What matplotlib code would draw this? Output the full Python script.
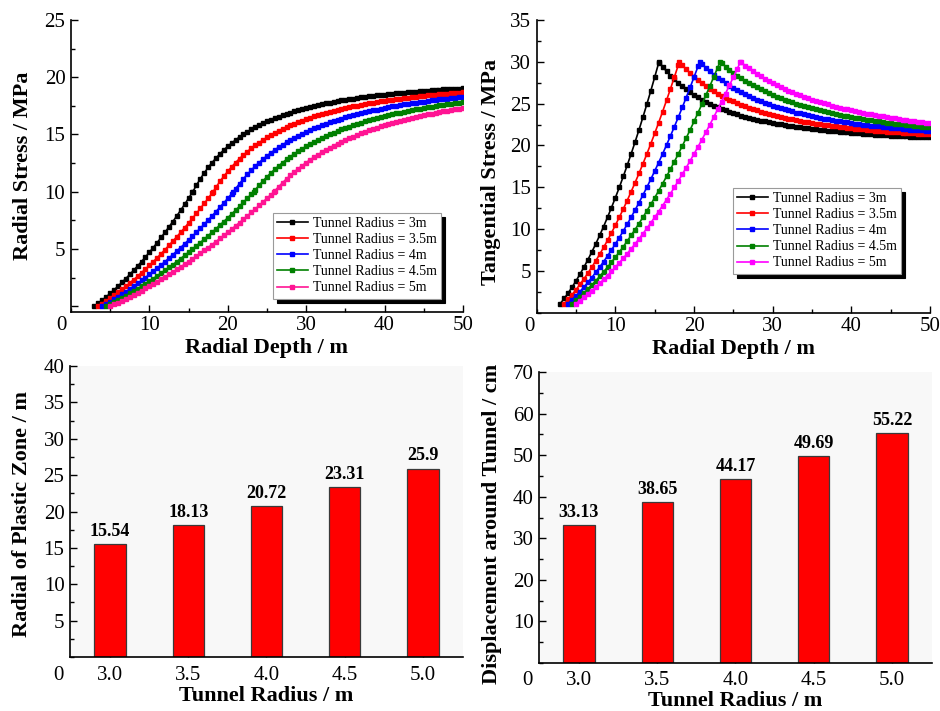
import numpy as np
import matplotlib
matplotlib.use('Agg')
import matplotlib.pyplot as plt
from matplotlib.ticker import MultipleLocator, FixedLocator

plt.rcParams['font.family'] = ['Liberation Serif', 'DejaVu Serif']

# ---------------- data ----------------
tunnel_radius = [3.0, 3.5, 4.0, 4.5, 5.0]
plastic_radius = [15.54, 18.13, 20.72, 23.31, 25.9]
displacement = [33.13, 38.65, 44.17, 49.69, 55.22]
legend_labels = ['Tunnel Radius = 3m', 'Tunnel Radius = 3.5m', 'Tunnel Radius = 4m',
                 'Tunnel Radius = 4.5m', 'Tunnel Radius = 5m']

radial_3m = [0.00, 0.26, 0.54, 0.82, 1.12, 1.43, 1.75, 2.08, 2.42, 2.78, 3.14, 3.52, 3.90, 4.30,
             4.71, 5.13, 5.56, 6.01, 6.46, 6.93, 7.40, 7.89, 8.39, 8.90, 9.43, 9.96, 10.00,
             10.57, 11.13, 11.64, 12.12, 12.55, 12.94, 13.31, 13.65, 13.96, 14.25,
             14.52, 14.78, 15.01, 15.23, 15.44, 15.63, 15.81, 15.98, 16.14, 16.29,
             16.43, 16.56, 16.69, 16.81, 16.92, 17.03, 17.13, 17.23, 17.32, 17.40,
             17.49, 17.57, 17.64, 17.71, 17.78, 17.85, 17.91, 17.97, 18.03, 18.08,
             18.14, 18.19, 18.24, 18.28, 18.33, 18.37, 18.41, 18.45, 18.49, 18.53,
             18.56, 18.60, 18.63, 18.66, 18.69, 18.72, 18.75, 18.78, 18.81, 18.83,
             18.86, 18.88, 18.91, 18.93, 18.95, 18.97, 18.99, 19.01, 19.03]
radial_3_5m = [0.00, 0.23, 0.46, 0.70, 0.95, 1.21, 1.48, 1.75, 2.03, 2.32, 2.62, 2.93, 3.25, 3.57,
               3.90, 4.24, 4.59, 4.95, 5.32, 5.69, 6.07, 6.46, 6.86, 7.27, 7.68, 8.11, 8.54, 8.98,
               9.43, 9.88, 10.00,
               10.40, 10.90, 11.36, 11.78, 12.18, 12.55, 12.89, 13.21, 13.51, 13.79,
               14.05, 14.29, 14.52, 14.74, 14.95, 15.14, 15.32, 15.49, 15.65, 15.81,
               15.95, 16.09, 16.22, 16.35, 16.47, 16.58, 16.69, 16.79, 16.89, 16.98,
               17.07, 17.16, 17.24, 17.32, 17.39, 17.46, 17.53, 17.60, 17.66, 17.72,
               17.78, 17.84, 17.89, 17.95, 18.00, 18.05, 18.09, 18.14, 18.18, 18.22,
               18.26, 18.30, 18.34, 18.38, 18.41, 18.45, 18.48, 18.51, 18.54, 18.57,
               18.60, 18.63, 18.66, 18.69]
radial_4m = [0.00, 0.20, 0.40, 0.61, 0.82, 1.05, 1.27, 1.51, 1.75, 2.00, 2.25, 2.51, 2.78, 3.05,
             3.33, 3.61, 3.90, 4.20, 4.51, 4.82, 5.13, 5.46, 5.78, 6.12, 6.46, 6.81, 7.16, 7.53,
             7.89, 8.27, 8.65, 9.03, 9.43, 9.82, 10.00,
             10.27, 10.71, 11.13, 11.52, 11.88, 12.23, 12.55, 12.85, 13.13, 13.40,
             13.65, 13.89, 14.11, 14.32, 14.52, 14.72, 14.90, 15.07, 15.23, 15.39,
             15.53, 15.67, 15.81, 15.94, 16.06, 16.17, 16.29, 16.39, 16.50, 16.59,
             16.69, 16.78, 16.86, 16.95, 17.03, 17.10, 17.18, 17.25, 17.32, 17.38,
             17.45, 17.51, 17.57, 17.62, 17.68, 17.73, 17.78, 17.83, 17.88, 17.93,
             17.97, 18.01, 18.06, 18.10, 18.14, 18.18, 18.21, 18.25, 18.28]
radial_4_5m = [0.00, 0.17, 0.35, 0.54, 0.73, 0.92, 1.12, 1.33, 1.54, 1.75,
               1.97, 2.19, 2.42, 2.66, 2.90, 3.14, 3.39, 3.64, 3.90, 4.17,
               4.44, 4.71, 4.99, 5.28, 5.56, 5.86, 6.16, 6.46, 6.77, 7.09,
               7.40, 7.73, 8.06, 8.39, 8.73, 9.08, 9.43, 9.78, 10.00,
               10.16, 10.57, 10.95, 11.31, 11.64, 11.96, 12.26, 12.55, 12.82, 13.07,
               13.31, 13.54, 13.76, 13.96, 14.16, 14.35, 14.52, 14.69, 14.86, 15.01,
               15.16, 15.30, 15.44, 15.57, 15.69, 15.81, 15.92, 16.03, 16.14, 16.24,
               16.33, 16.43, 16.52, 16.60, 16.69, 16.77, 16.85, 16.92, 16.99, 17.06,
               17.13, 17.19, 17.26, 17.32, 17.38, 17.43, 17.49, 17.54, 17.59, 17.64,
               17.69, 17.74, 17.78, 17.83]
radial_5m = [0.00, 0.16, 0.32, 0.48, 0.65, 0.82, 1.00, 1.18, 1.37, 1.56,
             1.75, 1.95, 2.15, 2.35, 2.56, 2.78, 2.99, 3.22, 3.44, 3.67,
             3.90, 4.14, 4.38, 4.63, 4.88, 5.13, 5.39, 5.65, 5.92, 6.19,
             6.46, 6.74, 7.02, 7.31, 7.60, 7.89, 8.19, 8.49, 8.80, 9.11,
             9.43, 9.74, 10.00,
             10.08, 10.45, 10.80, 11.13, 11.44, 11.74, 12.02, 12.29, 12.55, 12.79,
             13.02, 13.24, 13.45, 13.65, 13.84, 14.02, 14.20, 14.36, 14.52, 14.68,
             14.82, 14.97, 15.10, 15.23, 15.36, 15.47, 15.59, 15.70, 15.81, 15.91,
             16.01, 16.11, 16.20, 16.29, 16.37, 16.46, 16.54, 16.61, 16.69, 16.76,
             16.83, 16.90, 16.96, 17.03, 17.09, 17.15, 17.21, 17.26, 17.32]

tangential_3m = [1.10, 1.71, 2.37, 3.08, 3.82, 4.62, 5.45, 6.34, 7.26, 8.23, 9.25, 10.31, 11.42,
                 12.57, 13.76, 15.00, 16.29, 17.62, 18.99, 20.41, 21.87, 23.38, 24.94, 26.53,
                 28.18, 29.86, 30.00,
                 29.43, 28.87, 28.36, 27.89, 27.45, 27.06, 26.69, 26.35, 26.04, 25.75,
                 25.48, 25.22, 24.99, 24.77, 24.57, 24.37, 24.19, 24.02, 23.86, 23.71,
                 23.57, 23.44, 23.31, 23.19, 23.08, 22.97, 22.87, 22.77, 22.68, 22.60,
                 22.51, 22.43, 22.36, 22.29, 22.22, 22.15, 22.09, 22.03, 21.97, 21.92,
                 21.86, 21.81, 21.76, 21.72, 21.67, 21.63, 21.59, 21.55, 21.51, 21.47,
                 21.44, 21.40, 21.37, 21.34, 21.31, 21.28, 21.25, 21.22, 21.19, 21.17,
                 21.14, 21.12, 21.09, 21.07, 21.05, 21.03, 21.01, 20.99, 20.97]
tangential_3_5m = [1.10, 1.62, 2.18, 2.77, 3.39, 4.05, 4.73, 5.45, 6.21, 6.99, 7.81, 8.66, 9.55,
                   10.47, 11.42, 12.40, 13.42, 14.47, 15.55, 16.66, 17.81, 18.99, 20.20, 21.45,
                   22.73, 24.04, 25.39, 26.77, 28.18, 29.62, 30.00,
                   29.60, 29.11, 28.64, 28.22, 27.82, 27.45, 27.11, 26.79, 26.49, 26.21,
                   25.95, 25.71, 25.48, 25.26, 25.06, 24.86, 24.68, 24.51, 24.35, 24.19,
                   24.05, 23.91, 23.78, 23.65, 23.53, 23.42, 23.31, 23.21, 23.11, 23.02,
                   22.93, 22.84, 22.76, 22.68, 22.61, 22.54, 22.47, 22.40, 22.34, 22.28,
                   22.22, 22.16, 22.11, 22.05, 22.00, 21.96, 21.91, 21.86, 21.82, 21.78,
                   21.74, 21.70, 21.66, 21.62, 21.59, 21.55, 21.52, 21.49, 21.46, 21.43,
                   21.40, 21.37, 21.34, 21.32]
tangential_4m = [1.10, 1.56, 2.04, 2.54, 3.08, 3.63, 4.21, 4.82, 5.45, 6.11, 6.79, 7.50, 8.23,
                 8.99, 9.77, 10.58, 11.42, 12.28, 13.16, 14.07, 15.00, 15.96, 16.95, 17.96,
                 18.99, 20.05, 21.14, 22.25, 23.38, 24.54, 25.73, 26.94, 28.18, 29.44, 30.00,
                 29.74, 29.29, 28.87, 28.48, 28.12, 27.77, 27.45, 27.15, 26.87, 26.60,
                 26.35, 26.11, 25.89, 25.68, 25.48, 25.29, 25.10, 24.93, 24.77, 24.62,
                 24.47, 24.33, 24.19, 24.06, 23.94, 23.83, 23.71, 23.61, 23.50, 23.41,
                 23.31, 23.22, 23.14, 23.05, 22.97, 22.90, 22.82, 22.75, 22.68, 22.62,
                 22.55, 22.49, 22.43, 22.38, 22.32, 22.27, 22.22, 22.17, 22.12, 22.07,
                 22.03, 21.99, 21.94, 21.90, 21.86, 21.83, 21.79, 21.75, 21.72]
tangential_4_5m = [1.10, 1.50, 1.93, 2.37, 2.84, 3.32, 3.82, 4.35, 4.89, 5.45,
                   6.04, 6.64, 7.26, 7.90, 8.57, 9.25, 9.95, 10.67, 11.42, 12.18,
                   12.96, 13.76, 14.58, 15.43, 16.29, 17.17, 18.07, 18.99, 19.93, 20.89,
                   21.87, 22.87, 23.90, 24.94, 26.00, 27.08, 28.18, 29.30, 30.00,
                   29.84, 29.43, 29.05, 28.69, 28.36, 28.04, 27.74, 27.45, 27.18, 26.93,
                   26.69, 26.46, 26.24, 26.04, 25.84, 25.65, 25.48, 25.31, 25.14, 24.99,
                   24.84, 24.70, 24.56, 24.43, 24.31, 24.19, 24.08, 23.97, 23.86, 23.76,
                   23.67, 23.57, 23.48, 23.40, 23.31, 23.23, 23.15, 23.08, 23.01, 22.94,
                   22.87, 22.81, 22.74, 22.68, 22.62, 22.57, 22.51, 22.46, 22.41, 22.36,
                   22.31, 22.26, 22.22, 22.17]
tangential_5m = [1.10, 1.46, 1.84, 2.24, 2.65, 3.08, 3.52, 3.98, 4.45, 4.95,
                 5.45, 5.98, 6.52, 7.07, 7.65, 8.23, 8.84, 9.46, 10.09, 10.75,
                 11.42, 12.10, 12.80, 13.52, 14.25, 15.00, 15.77, 16.55, 17.35, 18.16,
                 18.99, 19.84, 20.70, 21.58, 22.47, 23.38, 24.31, 25.25, 26.21, 27.19,
                 28.18, 29.18, 30.00,
                 29.92, 29.55, 29.20, 28.87, 28.56, 28.26, 27.98, 27.71, 27.45, 27.21,
                 26.98, 26.76, 26.55, 26.35, 26.16, 25.98, 25.80, 25.64, 25.48, 25.32,
                 25.18, 25.04, 24.90, 24.77, 24.65, 24.53, 24.41, 24.30, 24.19, 24.09,
                 23.99, 23.90, 23.80, 23.71, 23.63, 23.55, 23.47, 23.39, 23.31, 23.24,
                 23.17, 23.10, 23.04, 22.97, 22.91, 22.85, 22.79, 22.74, 22.68]

radial_series = [radial_3m, radial_3_5m, radial_4m, radial_4_5m, radial_5m]
tangential_series = [tangential_3m, tangential_3_5m, tangential_4m, tangential_4_5m, tangential_5m]

radial_colors = ['#000000', '#ff0000', '#0000ff', '#008000', '#ff1493']
tangential_colors = ['#000000', '#ff0000', '#0000ff', '#008000', '#ff00ff']


def depth_grid(r0, rp):
    inner = np.arange(r0, rp - 1e-9, 0.5)
    outer = np.arange(np.floor(rp * 2) / 2 + 0.5, 50.0 + 1e-9, 0.5)
    return np.concatenate([inner, [rp], outer])


# ---------------- figure ----------------
fig = plt.figure(figsize=(9.4, 7.11), dpi=100)

ax_tl = fig.add_axes([0.0755, 0.5612, 0.417, 0.4107])
ax_tr = fig.add_axes([0.571, 0.5601, 0.4184, 0.4118])
ax_bl = fig.add_axes([0.0745, 0.0759, 0.418, 0.4093])
ax_br = fig.add_axes([0.5734, 0.0675, 0.418, 0.4093])

TICK = 15
LABEL = 16


def style_axes(ax):
    for s in ['top', 'right']:
        ax.spines[s].set_visible(False)
    for s in ['left', 'bottom']:
        ax.spines[s].set_linewidth(1.2)
    ax.tick_params(which='both', direction='in', width=1.0, labelsize=TICK)
    ax.tick_params(which='major', length=5)
    ax.tick_params(which='minor', length=3)
    ax.tick_params(axis='y', pad=4)


def origin_label(ax, dx, dy):
    ax.annotate('0', xy=(0, 0), xycoords='axes fraction', xytext=(dx, dy),
                textcoords='offset points', ha='center', va='top', fontsize=TICK)


def curve_panel(ax, series, colors, ylim, yticks, ylabel, leg_anchor, ylab_pos):
    for r0, rp, vals, c, lab in zip(tunnel_radius, plastic_radius, series, colors, legend_labels):
        d = depth_grid(r0, rp)
        n = min(len(d), len(vals))
        ax.plot(d[:n], vals[:n], '-s', color=c, lw=1.2, ms=3.2, mec=c, mfc=c, label=lab)
    ax.set_xlim(0, 50)
    ax.set_ylim(*ylim)
    ax.xaxis.set_major_locator(FixedLocator([10, 20, 30, 40, 50]))
    ax.xaxis.set_minor_locator(MultipleLocator(5))
    ax.yaxis.set_major_locator(FixedLocator(yticks))
    ax.yaxis.set_minor_locator(MultipleLocator(2.5))
    ax.set_yticklabels(['' if t == 0 else str(t) for t in yticks])
    style_axes(ax)
    ax.tick_params(axis='x', pad=3)
    ax.set_xlabel('Radial Depth / m', fontsize=LABEL, fontweight='bold')
    ax.xaxis.set_label_coords(0.5, -0.09)
    ax.set_ylabel(ylabel, fontsize=LABEL, fontweight='bold')
    ax.yaxis.set_label_coords(ylab_pos[0], ylab_pos[1])
    leg = ax.legend(loc='upper left', bbox_to_anchor=leg_anchor, borderaxespad=0,
                    fontsize=10, numpoints=1, handlelength=2.2, handletextpad=0.4,
                    borderpad=0.3, labelspacing=0.22, fancybox=False, framealpha=1,
                    edgecolor='#9a9a9a',
                    shadow={'color': 'black', 'alpha': 1.0, 'ox': 3, 'oy': -3})
    leg.get_frame().set_linewidth(0.8)


curve_panel(ax_tl, radial_series, radial_colors, (-0.5, 25), [0, 5, 10, 15, 20, 25],
            'Radial Stress / MPa', (0.515, 0.339), (-0.098, 0.5))
origin_label(ax_tl, -7, -3)

curve_panel(ax_tr, tangential_series, tangential_colors, (0, 35), [5, 10, 15, 20, 25, 30, 35],
            'Tangential Stress / MPa', (0.499, 0.426), (-0.092, 0.48))
origin_label(ax_tr, -5.5, -3)


def bar_panel(ax, values, ylim, ymajor, yminor, ylabel, ylab_pos, xlab_y, pad):
    ax.set_facecolor('#f8f8f8')
    bars = ax.bar(tunnel_radius, values, width=0.2, color='#ff0000',
                  edgecolor='#3a3a3a', linewidth=0.9, zorder=2)
    for b, v in zip(bars, values):
        ax.annotate(str(v), xy=(b.get_x() + b.get_width() / 2, b.get_height()),
                    xytext=(0, 3), textcoords='offset points', ha='center', va='bottom',
                    fontsize=13, fontweight='bold')
    ax.set_xlim(2.745, 5.255)
    ax.set_ylim(*ylim)
    ax.set_xticks(tunnel_radius)
    ax.set_xticklabels(['%.1f' % t for t in tunnel_radius])
    ax.yaxis.set_major_locator(MultipleLocator(ymajor))
    ax.yaxis.set_minor_locator(MultipleLocator(yminor))
    style_axes(ax)
    ax.tick_params(axis='x', pad=pad)
    ticks = ax.get_yticks()
    ax.set_yticks([t for t in ticks if ylim[0] < t <= ylim[1]])
    ax.set_yticklabels(['%d' % t for t in ax.get_yticks()])
    ax.set_xlabel('Tunnel Radius / m', fontsize=LABEL, fontweight='bold')
    ax.xaxis.set_label_coords(0.5, xlab_y)
    ax.set_ylabel(ylabel, fontsize=LABEL, fontweight='bold')
    ax.yaxis.set_label_coords(ylab_pos[0], ylab_pos[1])


bar_panel(ax_bl, plastic_radius, (0, 40), 5, 2.5, 'Radial of Plastic Zone / m',
          (-0.096, 0.49), -0.101, 6.5)
origin_label(ax_bl, -8.6, -6.5)

bar_panel(ax_br, displacement, (0, 70), 10, 5, 'Displacement around Tunnel / cm',
          (-0.093, 0.478), -0.096, 6)
origin_label(ax_br, -8.6, -6)

fig.savefig('out.png', dpi=100)
